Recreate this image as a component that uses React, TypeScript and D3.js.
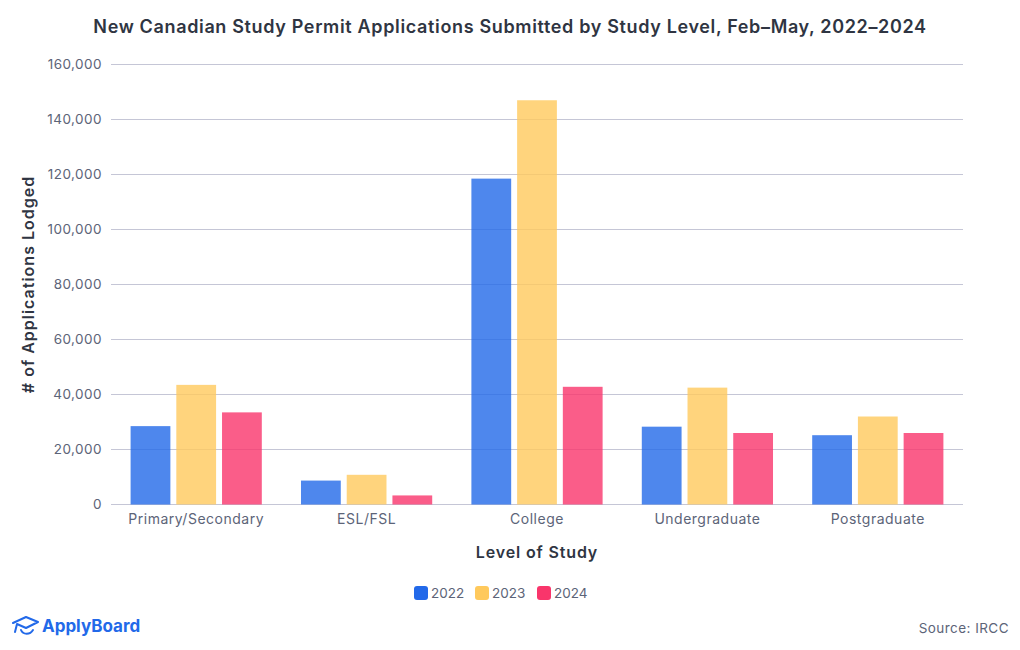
import React from "react";
import * as d3 from "d3";

const categories = ["Primary/Secondary", "ESL/FSL", "College", "Undergraduate", "Postgraduate"];
const years = ["2022", "2023", "2024"];
const values2022 = [28500, 8700, 118500, 28300, 25200];
const values2023 = [43500, 10800, 147000, 42500, 32000];
const values2024 = [33500, 3300, 42800, 26000, 26000];
const yTicks = [0, 20000, 40000, 60000, 80000, 100000, 120000, 140000, 160000];
const colors = ["#2269e9", "#ffc95c", "#f9356b"];

const width = 1020;
const height = 650;
const fontFamily = "Inter, 'Open Sans', sans-serif";
const series = [values2022, values2023, values2024];

export default function App() {
  const x0 = d3.scaleBand().domain(categories).range([111, 963]).paddingInner(0.23).paddingOuter(0.115);
  const x1 = d3.scaleBand().domain(years).range([0, x0.bandwidth()]).paddingInner(0.13);
  const y = d3.scaleLinear().domain([0, 160000]).range([504.5, 64.5]);
  const fmt = d3.format(",");

  return (
    <svg width={width} height={height} style={{ position: "absolute", left: 0, top: 0 }} fontFamily={fontFamily}>
      <text x={510} y={33} textAnchor="middle" fontSize={18} fontWeight={600} fill="#2f3542" letterSpacing={0.65}>
        New Canadian Study Permit Applications Submitted by Study Level, Feb–May, 2022–2024
      </text>

      {/* grid + y axis */}
      {yTicks.map((t) => (
        <g key={t}>
          <line x1={111} x2={963} y1={y(t)} y2={y(t)} stroke="#c5c6d6" strokeWidth={1} />
          <text x={102} y={y(t) + 4} textAnchor="end" fontSize={13.5} fill="#5c6478" letterSpacing={0.45}>
            {fmt(t)}
          </text>
        </g>
      ))}

      {/* bars */}
      {categories.map((c, i) => (
        <g key={c} transform={`translate(${x0(c)},0)`}>
          {years.map((yr, j) => (
            <rect
              key={yr}
              x={x1(yr)}
              y={y(series[j][i])}
              width={x1.bandwidth()}
              height={y(0) - y(series[j][i])}
              fill={colors[j]}
              fillOpacity={0.8}
            />
          ))}
        </g>
      ))}

      {/* x axis labels */}
      {categories.map((c) => (
        <text
          key={c}
          x={x0(c)! + x0.bandwidth() / 2}
          y={524}
          textAnchor="middle"
          fontSize={14}
          fill="#5c6478"
          letterSpacing={0.5}
        >
          {c}
        </text>
      ))}

      <text x={537} y={558} textAnchor="middle" fontSize={16} fontWeight={600} fill="#2f3542" letterSpacing={0.85}>
        Level of Study
      </text>
      <text
        transform="translate(34,284.5) rotate(-90)"
        textAnchor="middle"
        fontSize={16}
        fontWeight={600}
        fill="#2f3542"
        letterSpacing={1}
      >
        # of Applications Lodged
      </text>

      {/* legend */}
      {years.map((yr, j) => {
        const lx = [414, 475, 537][j];
        return (
          <g key={yr}>
            <rect x={lx} y={586} width={14} height={14} rx={3} fill={colors[j]} />
            <text x={lx + 17} y={598} fontSize={13.5} fill="#5c6478">
              {yr}
            </text>
          </g>
        );
      })}

      {/* logo */}
      <g fill="none" stroke="#2269e9" strokeWidth={2} strokeLinecap="round" strokeLinejoin="round">
        <path d="M13 623 L26 617 L38 622 L26 628 L17 624 L15 632" />
        <path d="M21 630 C23 635 30 635 33 630" />
      </g>
      <text x={42} y={632} fontSize={17} fontWeight={700} fill="#2269e9">
        ApplyBoard
      </text>

      <text x={1009} y={633} textAnchor="end" fontSize={13.5} fill="#5c6478" letterSpacing={0.45}>
        Source: IRCC
      </text>
    </svg>
  );
}
